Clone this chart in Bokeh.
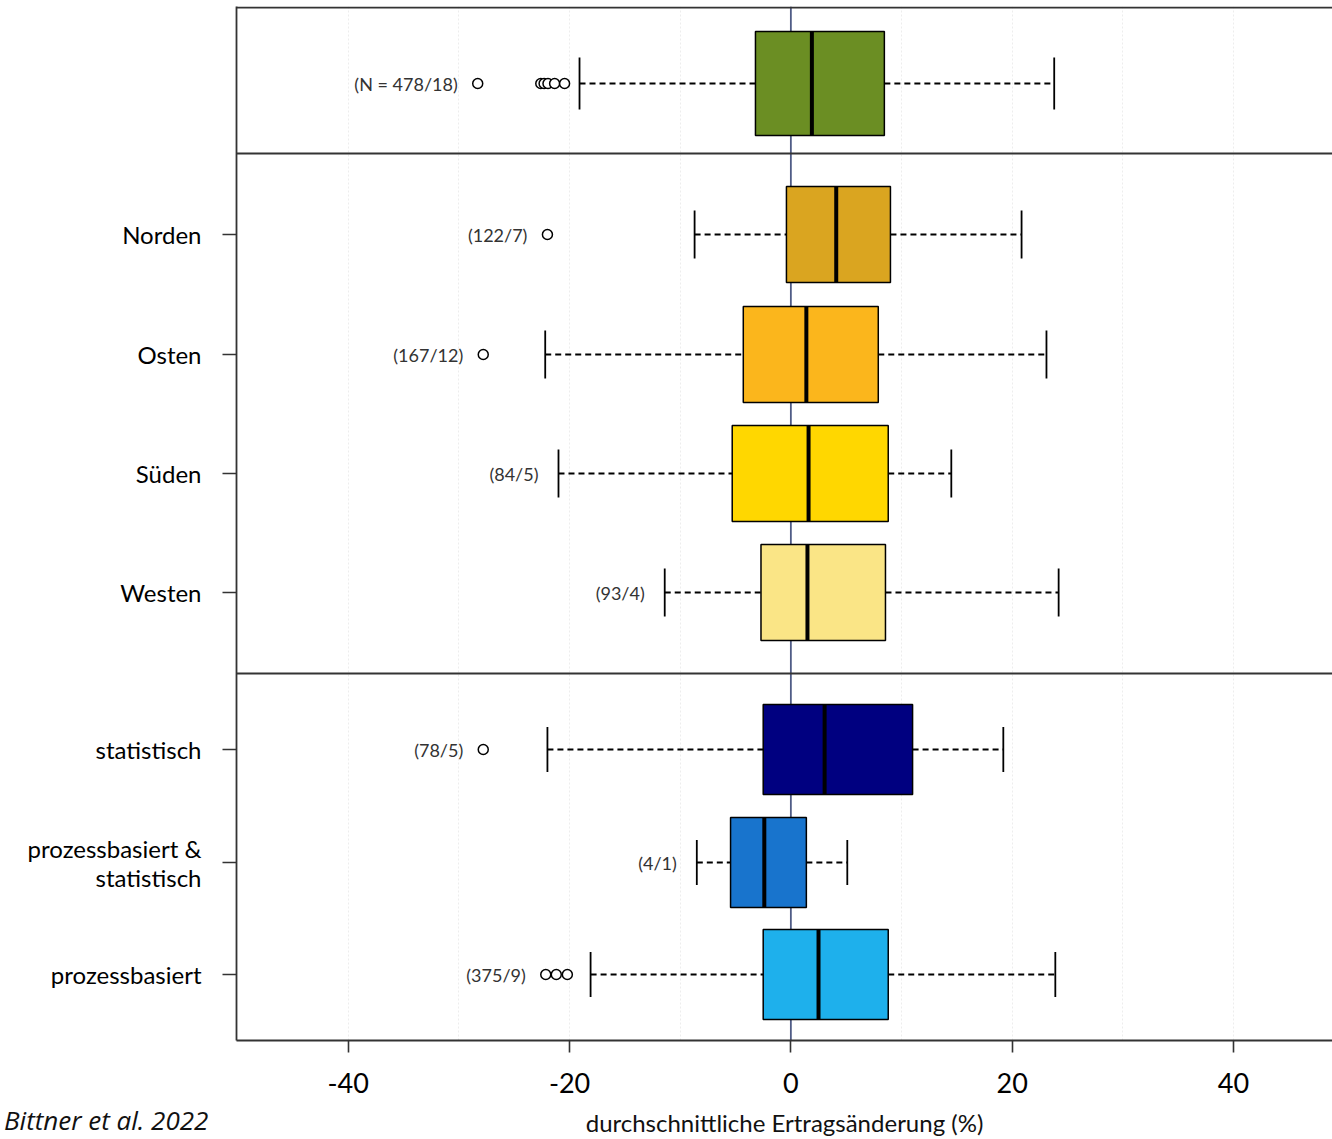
from bokeh.plotting import figure
from bokeh.models import Range1d, Span, FixedTicker, ColumnDataSource, Div
from bokeh.layouts import column
from bokeh.embed import file_html
from bokeh.resources import INLINE
from bokeh.core.properties import value

# ---------------- data ----------------
categories = ["Alle", "Norden", "Osten", "Süden", "Westen",
              "statistisch", "prozessbasiert &\nstatistisch", "prozessbasiert"]
n_labels = ["(N = 478/18)", "(122/7)", "(167/12)", "(84/5)", "(93/4)",
            "(78/5)", "(4/1)", "(375/9)"]
whisker_low = [-19.1, -8.7, -22.2, -21.0, -11.4, -22.0, -8.5, -18.1]
q1 = [-3.2, -0.4, -4.3, -5.3, -2.7, -2.5, -5.45, -2.5]
median = [1.9, 4.1, 1.4, 1.6, 1.5, 3.05, -2.4, 2.5]
q3 = [8.45, 9.0, 7.9, 8.8, 8.55, 11.0, 1.4, 8.8]
whisker_high = [23.8, 20.85, 23.1, 14.5, 24.2, 19.2, 5.1, 23.9]
outliers = [[-28.3, -22.6, -22.3, -21.95, -21.35, -20.45],
            [-22.0], [-27.8], [], [], [-27.8], [],
            [-22.15, -21.2, -20.2]]
colors = ["#6B8E23", "#DAA520", "#FBB61C", "#FFD700", "#FAE586",
          "#000080", "#1874CD", "#1EB0EC"]
x_ticks = [-40, -20, 0, 20, 40]
x_tick_labels = ["-40", "-20", "0", "20", "40"]
x_label = "durchschnittliche Ertragsänderung (%)"
source_note = "Bittner et al. 2022"

# ---------------- layout (row positions / box heights, px-like units) -------
row_pos = [957, 806, 686, 567, 448, 291, 178, 66]
box_h = [104, 96, 96, 96, 96, 90, 90, 90]
panel_breaks = [887, 367]
y_top = 1034

FONT = "Lato"
W, H = 1332, 1139

p = figure(width=W, height=H, output_backend="svg", toolbar_location=None,
           x_range=Range1d(-50.1, 48.95), y_range=Range1d(0, y_top),
           min_border_left=236, min_border_right=0, min_border_top=6,
           min_border_bottom=99)
p.outline_line_color = None
p.background_fill_color = "white"
p.border_fill_color = "white"

# faint grid
p.ygrid.grid_line_color = None
p.xgrid.ticker = FixedTicker(ticks=[-40, -30, -20, -10, 10, 20, 30, 40])
p.xgrid.grid_line_color = "#ededed"
p.xgrid.grid_line_dash = "2 2"

# zero line
p.add_layout(Span(location=0, dimension="height", line_color="#505c86",
                  line_width=1.8, level="underlay"))

# panel borders
for b in panel_breaks + [y_top - 1]:
    p.add_layout(Span(location=b, dimension="width", line_color="#333333",
                      line_width=1.8))

src = ColumnDataSource(dict(
    y=row_pos, h=box_h, lo=whisker_low, q1=q1, med=median, q3=q3, hi=whisker_high,
    color=colors,
    cap0=[r - h / 4 for r, h in zip(row_pos, box_h)],
    cap1=[r + h / 4 for r, h in zip(row_pos, box_h)],
    m0=[r - h / 2 for r, h in zip(row_pos, box_h)],
    m1=[r + h / 2 for r, h in zip(row_pos, box_h)],
))

# whiskers
p.segment(x0="lo", y0="y", x1="q1", y1="y", source=src, line_color="black",
          line_width=1.8, line_dash="6 4")
p.segment(x0="q3", y0="y", x1="hi", y1="y", source=src, line_color="black",
          line_width=1.8, line_dash="6 4")
p.segment(x0="lo", y0="cap0", x1="lo", y1="cap1", source=src, line_color="black",
          line_width=1.8)
p.segment(x0="hi", y0="cap0", x1="hi", y1="cap1", source=src, line_color="black",
          line_width=1.8)

# boxes
p.hbar(y="y", left="q1", right="q3", height="h", source=src, fill_color="color",
       line_color="black", line_width=1.5)
p.segment(x0="med", y0="m0", x1="med", y1="m1", source=src, line_color="black",
          line_width=4)

# outliers
ox, oy = [], []
for r, outs in zip(row_pos, outliers):
    for v in outs:
        ox.append(v)
        oy.append(r)
p.scatter(ox, oy, marker="circle", size=10, fill_color="white",
          line_color="black", line_width=1.5)

# n labels
label_x = [min([lo] + outs) for lo, outs in zip(whisker_low, outliers)]
p.text(x=label_x, y=row_pos, text=n_labels, text_align="right",
       text_baseline="middle", x_offset=-20, text_font=value(FONT),
       text_font_size="18px", text_color="#333333")

# y axis
yax = p.yaxis[0]
yax.ticker = FixedTicker(ticks=row_pos[1:])
yax.major_label_overrides = {r: c for r, c in zip(row_pos[1:], categories[1:])}
yax.major_tick_out = 14
yax.major_tick_in = 0
yax.minor_tick_line_color = None
yax.axis_line_width = 1.8
yax.axis_line_color = "#333333"
yax.major_tick_line_width = 1.6
yax.major_tick_line_color = "#333333"
yax.major_label_text_font = FONT
yax.major_label_text_font_size = "24px"
yax.major_label_text_line_height = 1.0
yax.major_label_text_color = "black"
yax.major_label_standoff = 21

# x axis
xax = p.xaxis[0]
xax.ticker = FixedTicker(ticks=x_ticks)
xax.major_label_overrides = {t: s for t, s in zip(x_ticks, x_tick_labels)}
xax.major_tick_out = 12
xax.major_tick_in = 0
xax.minor_tick_line_color = None
xax.axis_line_width = 1.8
xax.axis_line_color = "#333333"
xax.major_tick_line_width = 1.6
xax.major_tick_line_color = "#333333"
xax.major_label_text_font = FONT
xax.major_label_text_font_size = "27px"
xax.major_label_text_color = "black"
xax.major_label_standoff = 20
xax.axis_label = x_label
xax.axis_label_text_font = FONT
xax.axis_label_text_font_size = "24px"
xax.axis_label_text_font_style = "normal"
xax.axis_label_text_color = "#111111"
xax.axis_label_standoff = 12

note = Div(text=source_note, width=320, height=36, margin=(-36, 0, 0, 4),
           styles={"font-family": "Open Sans", "font-style": "italic",
                   "font-size": "26px", "line-height": "34px",
                   "color": "#111111"})

open("out.html", "w").write(file_html(column(p, note, spacing=0), INLINE))
